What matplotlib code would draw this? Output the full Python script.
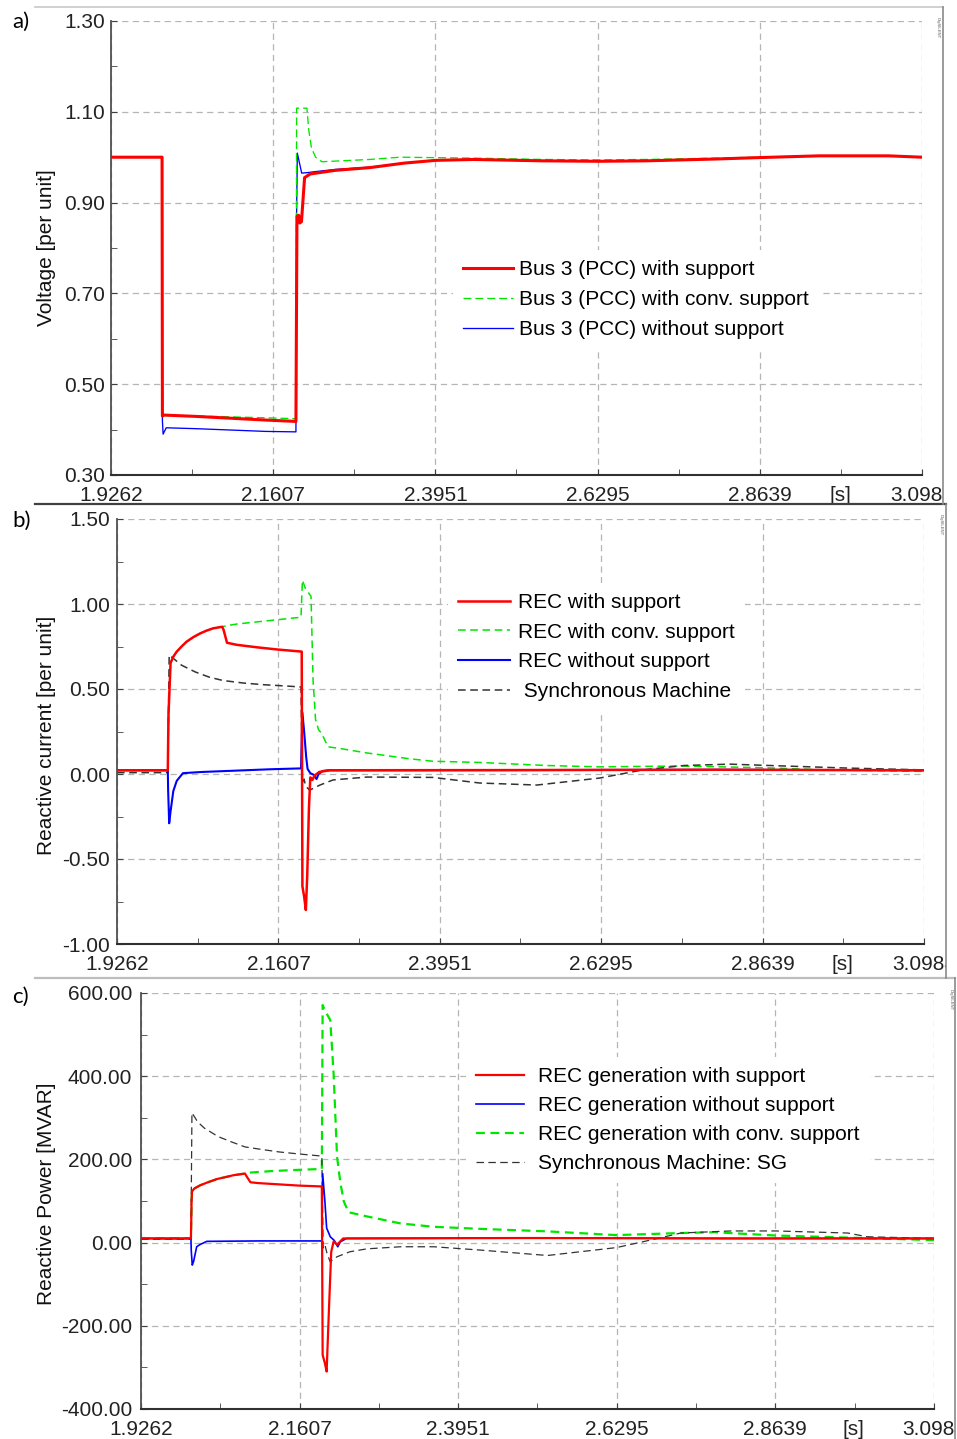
import numpy as np
import matplotlib
matplotlib.use("Agg")
from matplotlib import pyplot as plt
from matplotlib.lines import Line2D
from matplotlib.transforms import Bbox, TransformedBbox

plt.rcParams['font.family'] = ['Liberation Sans', 'DejaVu Sans']

W, H = 957, 1439

# ---- data ----
xticks = [1.9262, 2.1607, 2.3951, 2.6295, 2.8639, 3.0984]
xtick_labels = ['1.9262', '2.1607', '2.3951', '2.6295', '2.8639', '3.0984']

# a) voltage at Bus 3 (PCC) [p.u.]
ta_red = [1.9262, 2.000, 2.0005, 2.003, 2.05, 2.10, 2.15, 2.1935, 2.1950, 2.1975, 2.1990,
          2.2015, 2.2060, 2.214, 2.25, 2.30, 2.35, 2.395, 2.45, 2.55, 2.63, 2.70, 2.80,
          2.86, 2.95, 3.05, 3.0984]
va_red = [1.0, 1.0, 0.430, 0.432, 0.429, 0.425, 0.421, 0.418, 0.870, 0.872, 0.855,
          0.858, 0.955, 0.963, 0.971, 0.977, 0.987, 0.993, 0.995, 0.992, 0.991, 0.992, 0.996,
          0.999, 1.003, 1.003, 1.000]
ta_green = [1.9262, 2.000, 2.0005, 2.05, 2.10, 2.15, 2.1935, 2.1945, 2.2094, 2.212, 2.216,
            2.222, 2.231, 2.30, 2.344, 2.45, 2.55, 2.63, 2.70, 2.80, 2.86, 2.95, 3.05, 3.0984]
va_green = [1.0, 1.0, 0.431, 0.430, 0.428, 0.426, 0.424, 1.108, 1.108, 1.060, 1.020,
            1.000, 0.990, 0.995, 1.000, 0.998, 0.995, 0.994, 0.995, 0.998, 1.000, 1.003, 1.003, 1.000]
ta_blue = [1.9262, 2.000, 2.0005, 2.0015, 2.006, 2.05, 2.10, 2.15, 2.1935, 2.1945, 2.1955,
           2.2018, 2.21, 2.22, 2.25, 2.30, 2.35, 2.395, 2.45, 2.55, 2.63, 2.70, 2.80,
           2.86, 2.95, 3.05, 3.0984]
va_blue = [1.0, 1.0, 0.420, 0.390, 0.404, 0.402, 0.399, 0.396, 0.395, 0.880, 1.009,
           0.965, 0.966, 0.968, 0.973, 0.978, 0.987, 0.993, 0.995, 0.992, 0.991, 0.992, 0.996,
           0.999, 1.003, 1.003, 1.000]

# b) reactive current [p.u.]
tb_red = [1.9262, 2.000, 2.001, 2.004, 2.008, 2.0128, 2.02, 2.0272, 2.037, 2.047, 2.056,
          2.066, 2.079, 2.081, 2.086, 2.10, 2.13, 2.16, 2.1945, 2.1955, 2.198, 2.2005,
          2.2025, 2.205, 2.207, 2.210, 2.213, 2.220, 2.235, 2.50, 2.80, 3.0984]
vb_red = [0.022, 0.022, 0.35, 0.653, 0.690, 0.719, 0.750, 0.778, 0.805, 0.827, 0.843,
          0.857, 0.866, 0.848, 0.772, 0.760, 0.745, 0.732, 0.720, -0.66, -0.72, -0.80,
          -0.60, -0.20, -0.02, -0.035, -0.01, 0.012, 0.022, 0.023, 0.025, 0.022]
tb_green = [1.9262, 2.000, 2.001, 2.004, 2.008, 2.0128, 2.02, 2.0272, 2.037, 2.047, 2.056,
            2.066, 2.079, 2.085, 2.10, 2.13, 2.16, 2.1935, 2.1955, 2.200, 2.2045, 2.208,
            2.211, 2.2146, 2.219, 2.2234, 2.2326, 2.25, 2.289, 2.35, 2.385, 2.453, 2.55,
            2.627, 2.743, 2.864, 2.95, 3.0984]
vb_green = [0.022, 0.022, 0.35, 0.653, 0.690, 0.719, 0.750, 0.778, 0.805, 0.827, 0.843,
            0.857, 0.866, 0.872, 0.882, 0.895, 0.908, 0.922, 1.140, 1.090, 1.065, 1.045,
            0.55, 0.32, 0.26, 0.24, 0.160, 0.150, 0.124, 0.090, 0.075, 0.068, 0.050,
            0.042, 0.047, 0.037, 0.025, 0.015]
tb_blue = [1.9262, 2.000, 2.0005, 2.002, 2.004, 2.008, 2.013, 2.022, 2.05, 2.10, 2.15,
           2.1935, 2.1955, 2.198, 2.201, 2.203, 2.207, 2.212, 2.216, 2.219, 2.225, 2.235,
           2.50, 2.80, 3.0984]
vb_blue = [0.022, 0.022, -0.10, -0.29, -0.22, -0.10, -0.04, 0.005, 0.012, 0.020, 0.028,
           0.033, 0.360, 0.250, 0.100, 0.030, 0.005, -0.005, -0.030, 0.000, 0.018, 0.022,
           0.023, 0.025, 0.022]
tb_sm = [1.9262, 2.000, 2.002, 2.02, 2.04, 2.06, 2.08, 2.11, 2.14, 2.17, 2.1935, 2.1955,
         2.198, 2.200, 2.206, 2.221, 2.24, 2.289, 2.385, 2.453, 2.536, 2.627, 2.69, 2.75,
         2.816, 2.889, 2.986, 3.0984]
vb_sm = [0.008, 0.008, 0.700, 0.640, 0.600, 0.570, 0.550, 0.535, 0.525, 0.518, 0.512, -0.050,
         -0.030, -0.070, -0.095, -0.065, -0.035, -0.018, -0.020, -0.053, -0.065, -0.024, 0.024, 0.050,
         0.058, 0.048, 0.035, 0.024]

# c) reactive power [MVAR]
tc_red = [1.9262, 2.000, 2.001, 2.0016, 2.005, 2.014, 2.025, 2.039, 2.05, 2.063, 2.080,
          2.082, 2.088, 2.10, 2.13, 2.16, 2.1935, 2.1947, 2.198, 2.2006, 2.2041, 2.2074,
          2.211, 2.216, 2.225, 2.50, 2.80, 3.0984]
vc_red = [10, 10, 100, 123, 130, 138, 145, 153, 157, 162, 166,
          160, 145, 143, 140, 137, 135, -270, -290, -310, -157, -22,
          3, -5, 10, 11, 10, 10]
tc_green = [1.9262, 2.000, 2.001, 2.0016, 2.005, 2.014, 2.025, 2.039, 2.05, 2.063, 2.080,
            2.085, 2.12, 2.16, 2.1935, 2.1947, 2.199, 2.206, 2.211, 2.216, 2.221, 2.226,
            2.233, 2.26, 2.31, 2.359, 2.428, 2.527, 2.629, 2.724, 2.773, 2.865, 2.971, 3.0984]
vc_green = [10, 10, 100, 123, 130, 138, 145, 153, 157, 162, 166,
            168, 172, 175, 177, 571, 555, 535, 403, 206, 143, 99,
            73, 63, 46, 38, 33, 27, 18, 23, 25, 17, 12, 6]
tc_blue = [1.9262, 2.000, 2.0005, 2.002, 2.004, 2.0085, 2.013, 2.0235, 2.10, 2.1935,
           2.1947, 2.198, 2.2006, 2.206, 2.212, 2.217, 2.221, 2.23, 2.50, 2.80, 3.0984]
vc_blue = [10, 10, -20, -54, -45, -10, -5, 3, 4, 4,
           166, 100, 35, 14, 5, -10, 2, 10, 11, 10, 10]
tc_sm = [1.9262, 2.000, 2.0015, 2.01, 2.02, 2.04, 2.06, 2.08, 2.10, 2.13, 2.16, 2.1935,
         2.1955, 2.198, 2.201, 2.2058, 2.216, 2.235, 2.26, 2.31, 2.359, 2.428, 2.527,
         2.629, 2.69, 2.724, 2.798, 2.865, 2.971, 3.00, 3.0984]
vc_sm = [8, 8, 312, 290, 275, 255, 242, 230, 225, 218, 213, 208,
         -13, -5, -25, -46, -34, -22, -15, -10, -10, -18, -31,
         -12, 10, 23, 28, 28, 23, 14, 10]

RED, GREEN, BLUE, BLACK = '#ff0000', '#00e600', '#0000ff', '#333333'
XPAD = 7.6
LPAD = 0.5  # legend box padding (white box hides the grid behind the text)


def px(x, y):
    return x / W, 1 - y / H


fig = plt.figure(figsize=(W / 100, H / 100), dpi=100)


def make_axes(l, t, r, b, ylim, ystep, ypad, frame_x):
    x0, y1 = px(l, t)
    x1, y0 = px(r, b)
    ax = fig.add_axes([x0, y0, x1 - x0, y1 - y0])
    ax.set_xlim(xticks[0], xticks[-1])
    ax.set_ylim(*ylim)
    ax.set_xticks(xticks)
    ax.set_xticklabels(xtick_labels)
    ax.set_xticks([(a + b2) / 2 for a, b2 in zip(xticks[:-1], xticks[1:])], minor=True)
    yt = np.arange(ylim[0], ylim[1] + ystep / 2, ystep)
    ax.set_yticks(yt)
    ax.set_yticks(yt[:-1] + ystep / 2, minor=True)
    ax.yaxis.set_major_formatter(matplotlib.ticker.FormatStrFormatter('%.2f'))
    ax.grid(True, which='major', color='#b5b5b5', lw=0.9, ls=(0, (5, 3.5)))
    for s in ('top', 'right'):
        ax.spines[s].set_visible(False)
    ax.spines['left'].set_color('#505050')
    ax.spines['left'].set_linewidth(1.3)
    ax.spines['bottom'].set_color('#303030')
    ax.spines['bottom'].set_linewidth(1.5)
    ax.tick_params(axis='both', which='both', direction='in', length=4, color='#404040',
                   labelsize=15, labelcolor='#222222')
    ax.tick_params(axis='x', pad=XPAD)
    ax.tick_params(axis='y', pad=ypad)
    clip = TransformedBbox(Bbox([[0, 0], [frame_x / W, 1]]), fig.transFigure)
    for lab in ax.get_xticklabels():
        lab.set_clip_on(True)
        lab.set_clip_box(clip)
    ax.annotate('[s]', xy=(2.98, 0), xycoords=ax.get_xaxis_transform(),
                xytext=(0, -XPAD), textcoords='offset points', ha='center', va='top',
                fontsize=15, color='#222222')
    return ax


def legend(ax, handles, labels, x, y, hl, htp, ls):
    d = LPAD * 15 * 100 / 72
    leg = ax.legend(handles, labels, loc='upper left', bbox_to_anchor=px(x - d, y - d),
                    bbox_transform=fig.transFigure, frameon=True, facecolor='white',
                    edgecolor='none', framealpha=1, fancybox=False, fontsize=15,
                    borderpad=LPAD, borderaxespad=0, handlelength=hl, handletextpad=htp,
                    labelspacing=ls)
    return leg


# ---- a) ----
ax = make_axes(111, 21, 922, 475, (0.3, 1.3), 0.2, 4.3, 943)
hb, = ax.plot(ta_blue, va_blue, color=BLUE, lw=0.95)
hg, = ax.plot(ta_green, va_green, color=GREEN, lw=0.95, ls=(0, (6, 3)))
hr, = ax.plot(ta_red, va_red, color=RED, lw=2.2)
legend(ax, [hr, hg, hb], ['Bus 3 (PCC) with support', 'Bus 3 (PCC) with conv. support',
                          'Bus 3 (PCC) without support'], 463, 260, 2.4, 0.29, 0.53)

# ---- b) ----
ax = make_axes(117, 519, 924, 944, (-1.0, 1.5), 0.5, 5.0, 946)
hg, = ax.plot(tb_green, vb_green, color=GREEN, lw=1.1, ls=(0, (5, 3)))
hk, = ax.plot(tb_sm, vb_sm, color=BLACK, lw=1.1, ls=(0, (5, 3)))
hb, = ax.plot(tb_blue, vb_blue, color=BLUE, lw=1.5)
hr, = ax.plot(tb_red, vb_red, color=RED, lw=1.8)
legend(ax, [hr, hg, hb, hk], ['REC with support', 'REC with conv. support',
                              'REC without support', ' Synchronous Machine'],
       458, 593, 2.5, 0.38, 0.51)

# ---- c) ----
ax = make_axes(141, 993, 934, 1409, (-400, 600), 200, 6.5, 955)
hg, = ax.plot(tc_green, vc_green, color=GREEN, lw=1.6, ls=(0, (4, 2.5)))
hk, = ax.plot(tc_sm, vc_sm, color=BLACK, lw=0.9, ls=(0, (6, 3.5)))
hb, = ax.plot(tc_blue, vc_blue, color=BLUE, lw=1.2)
hr, = ax.plot(tc_red, vc_red, color=RED, lw=1.6)
legend(ax, [hr, hb, hg, hk], ['REC generation with support', 'REC generation without support',
                              'REC generation with conv. support', 'Synchronous Machine: SG'],
       476, 1067, 2.3, 0.67, 0.48)

# axis titles and panel letters
for y, txt in [(248, 'Voltage [per unit]'), (735, 'Reactive current [per unit]'),
               (1194, 'Reactive Power [MVAR]')]:
    fig.text(*px(47, y), txt, rotation=90, ha='center', va='center', fontsize=15, color='#111111')
for y, txt in [(22, 'a)'), (521, 'b)'), (997, 'c)')]:
    fig.text(*px(12, y), txt, ha='left', va='center', fontsize=16, family=['Lato', 'DejaVu Sans'])

# screenshot frames
frame = [((35, 7), (943, 7), '#c8c8c8', 1.2), ((35, 504), (946, 504), '#404040', 1.6),
         ((35, 978), (955, 978), '#bdbdbd', 1.6), ((943, 7), (943, 504), '#8a8a8a', 1.2),
         ((946, 504), (946, 978), '#8a8a8a', 1.2), ((955, 978), (955, 1439), '#8a8a8a', 1.2)]
for p0, p1, c, lw in frame:
    a0, a1 = px(*p0), px(*p1)
    fig.add_artist(Line2D([a0[0], a1[0]], [a0[1], a1[1]], color=c, lw=lw))
for x, y in [(938, 28), (941, 525), (951, 1000)]:
    fig.text(*px(x, y), 'DIgSILENT', rotation=270, ha='center', va='center', fontsize=3,
             color='#555555')

fig.savefig('out.png', dpi=100)
